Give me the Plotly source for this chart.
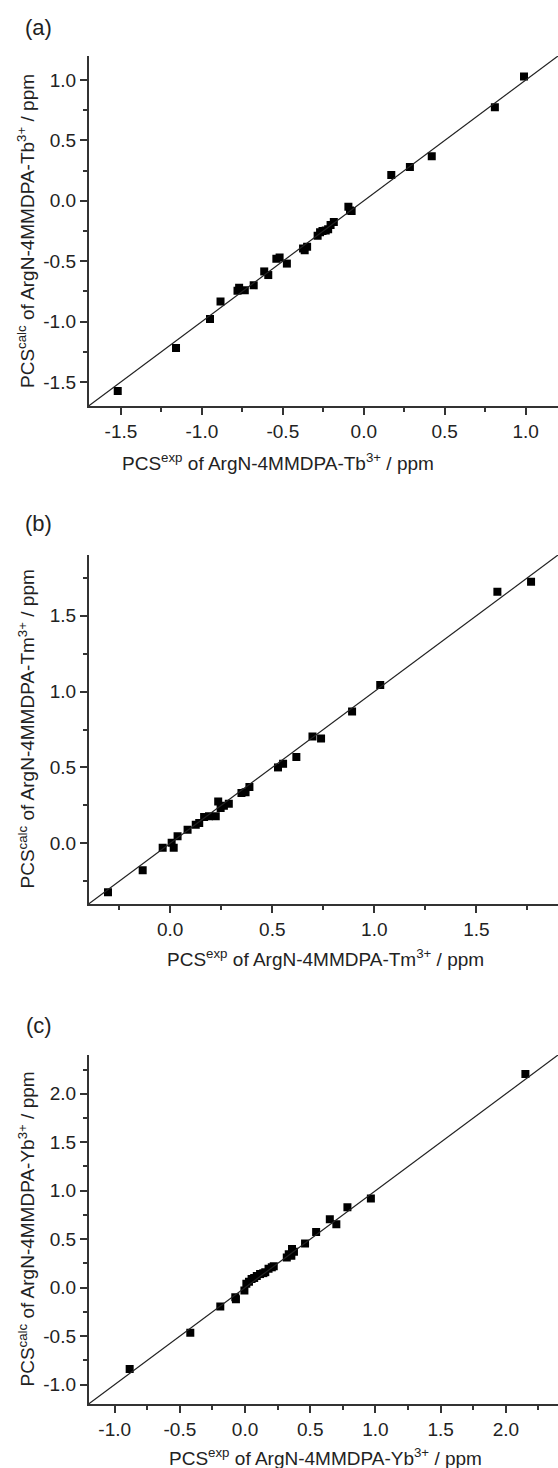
import plotly.graph_objects as go

W, H = 558, 1468

# ---------- data ----------
tb_exp = [-1.52, -1.16, -0.95, -0.885, -0.78, -0.77, -0.735, -0.68, -0.615, -0.59,
          -0.54, -0.52, -0.475, -0.375, -0.35, -0.365, -0.285, -0.27, -0.255, -0.235,
          -0.22, -0.205, -0.185, -0.095, -0.085, -0.075, 0.17, 0.285, 0.42, 0.81, 0.99]
tb_calc = [-1.575, -1.22, -0.98, -0.835, -0.745, -0.72, -0.74, -0.70, -0.585, -0.615,
           -0.48, -0.47, -0.52, -0.395, -0.38, -0.41, -0.29, -0.26, -0.25, -0.245,
           -0.235, -0.20, -0.175, -0.05, -0.08, -0.085, 0.215, 0.28, 0.37, 0.775, 1.03]

tm_exp = [-0.305, -0.135, -0.037, 0.007, 0.017, 0.036, 0.085, 0.125, 0.142, 0.166,
          0.19, 0.223, 0.235, 0.247, 0.263, 0.287, 0.349, 0.369, 0.388,
          0.528, 0.553, 0.618, 0.697, 0.739, 0.891, 1.029, 1.603, 1.768]
tm_calc = [-0.322, -0.178, -0.03, 0.003, -0.03, 0.046, 0.09, 0.123, 0.134, 0.174,
           0.178, 0.178, 0.276, 0.233, 0.248, 0.261, 0.332, 0.336, 0.371,
           0.50, 0.524, 0.568, 0.704, 0.691, 0.868, 1.044, 1.658, 1.724]

yb_exp = [-0.885, -0.42, -0.19, -0.075, -0.07, -0.005, 0.01, 0.03, 0.05, 0.07,
          0.09, 0.115, 0.14, 0.155, 0.18, 0.205, 0.22, 0.32, 0.335, 0.355,
          0.36, 0.375, 0.46, 0.545, 0.65, 0.70, 0.785, 0.965, 2.15]
yb_calc = [-0.84, -0.465, -0.195, -0.10, -0.12, -0.03, 0.04, 0.06, 0.09, 0.10,
           0.12, 0.14, 0.15, 0.16, 0.195, 0.21, 0.22, 0.31, 0.345, 0.33,
           0.40, 0.37, 0.455, 0.575, 0.705, 0.655, 0.83, 0.92, 2.205]

# axis ranges (square) and major tick values
range_a = [-1.7, 1.2]
range_b = [-0.4, 1.9]
range_c = [-1.2, 2.4]
ticks_a = [-1.5, -1.0, -0.5, 0.0, 0.5, 1.0]
ticks_b = [0.0, 0.5, 1.0, 1.5]
ticks_c = [-1.0, -0.5, 0.0, 0.5, 1.0, 1.5, 2.0]

fit_slope, fit_intercept = 1.0, 0.0

labels = ["(a)", "(b)", "(c)"]
ions = ["Tb", "Tm", "Yb"]

panels = [
    (tb_exp, tb_calc, range_a, ticks_a),
    (tm_exp, tm_calc, range_b, ticks_b),
    (yb_exp, yb_calc, range_c, ticks_c),
]

# ---------- layout geometry (pixels) ----------
plot_left = 88.6
plot_tops = [56, 555, 1055]
plot_bottoms = [406, 904, 1404]
xtitle_cx = [278, 325, 325]
xtitle_cy = [462, 958, 1457]
label_y = [27, 523, 1025]

FONT = "Liberation Sans, Arial, sans-serif"
TXT = "#222222"
AX = "#333333"

fig = go.Figure()
layout = dict(
    width=W, height=H, margin=dict(l=0, r=0, t=0, b=0),
    paper_bgcolor="white", plot_bgcolor="white", showlegend=False,
    font=dict(family=FONT, size=19, color=TXT),
)
annotations = []

for i, (xs, ys, rng, tks) in enumerate(panels):
    n = "" if i == 0 else str(i + 1)
    xa, ya = "x" + n, "y" + n
    fig.add_trace(go.Scatter(
        x=xs, y=ys, mode="markers", xaxis=xa, yaxis=ya,
        marker=dict(symbol="square", size=8, color="black", line=dict(width=0)),
    ))
    lx = [rng[0], rng[1]]
    ly = [fit_slope * v + fit_intercept for v in lx]
    fig.add_trace(go.Scatter(
        x=lx, y=ly, mode="lines", xaxis=xa, yaxis=ya,
        line=dict(color="#222222", width=1.2),
    ))
    ttext = [f"{v:.1f}" for v in tks]
    common = dict(
        range=rng, showgrid=False, zeroline=False, showline=True,
        linecolor=AX, linewidth=1.5, ticks="outside", ticklen=7, tickwidth=1.5,
        tickcolor=AX, tickvals=tks, ticktext=ttext,
        tickfont=dict(family=FONT, size=19, color=TXT),
        minor=dict(ticks="outside", ticklen=4, tickwidth=1.5, tickcolor=AX,
                   dtick=0.25, tick0=0, showgrid=False),
        mirror=False,
    )
    ydom = [1 - plot_bottoms[i] / H, 1 - plot_tops[i] / H]
    layout["xaxis" + n] = dict(common, domain=[plot_left / W, 1.0], anchor=ya)
    layout["yaxis" + n] = dict(common, domain=ydom, anchor=xa)

    annotations.append(dict(
        text=f"PCS<sup>exp</sup> of ArgN-4MMDPA-{ions[i]}<sup>3+</sup> / ppm",
        xref="paper", yref="paper", x=xtitle_cx[i] / W, y=1 - xtitle_cy[i] / H,
        xanchor="center", yanchor="middle", showarrow=False,
        font=dict(family=FONT, size=19, color=TXT),
    ))
    annotations.append(dict(
        text=f"PCS<sup>calc</sup> of ArgN-4MMDPA-{ions[i]}<sup>3+</sup> / ppm",
        xref="paper", yref="paper", x=26 / W,
        y=1 - (plot_tops[i] + plot_bottoms[i]) / 2 / H,
        xanchor="center", yanchor="middle", showarrow=False, textangle=-90,
        font=dict(family=FONT, size=19, color=TXT),
    ))
    annotations.append(dict(
        text=labels[i], xref="paper", yref="paper", x=39 / W, y=1 - label_y[i] / H,
        xanchor="center", yanchor="middle", showarrow=False,
        font=dict(family=FONT, size=22, color=TXT),
    ))

layout["annotations"] = annotations
fig.update_layout(**layout)
fig.write_html("out.html")
